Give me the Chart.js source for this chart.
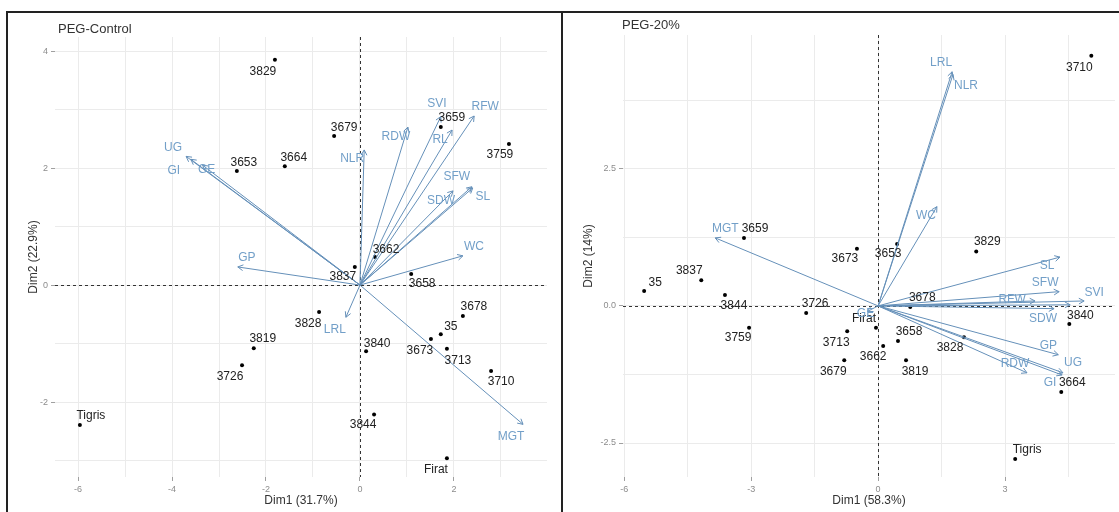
<!DOCTYPE html>
<html>
<head>
<meta charset="utf-8">
<script src="https://cdn.jsdelivr.net/npm/chart.js@4.4.1/dist/chart.umd.min.js"></script>
<style>
    body { margin: 0; background: #fff; width: 1119px; height: 512px; overflow: hidden; position: relative; }
    .frame { position: absolute; left: 6px; top: 11px; width: 1200px; height: 600px; border-left: 2px solid #222; border-top: 2px solid #222; }
    .divider { position: absolute; left: 561px; top: 11px; width: 2px; height: 600px; background: #222; }
    .panel { position: absolute; top: 14px; height: 498px; }
    #left { left: 8px; width: 552px; }
    #right { left: 563px; width: 556px; }
</style>
</head>
<body>
<div class="frame"></div>
<div class="divider"></div>
<div class="panel" id="left"><canvas id="ctrlChart"></canvas></div>
<div class="panel" id="right"><canvas id="pegChart"></canvas></div>

<script>
// ---- PEG-Control ----
const ctrlNames = ["3829", "3653", "3664", "3679", "3659", "3759", "3662", "3837", "3658", "3828", "3819",
    "3726", "Tigris", "3678", "35", "3673", "3713", "3840", "3710", "3844", "Firat"];
const ctrlX = [-1.81, -2.62, -1.60, -0.55, 1.72, 3.17, 0.32, -0.11, 1.09, -0.87, -2.26,
    -2.51, -5.96, 2.19, 1.72, 1.51, 1.85, 0.13, 2.79, 0.30, 1.85];
const ctrlY = [3.85, 1.95, 2.03, 2.55, 2.70, 2.41, 0.48, 0.31, 0.19, -0.46, -1.08,
    -1.37, -2.39, -0.53, -0.84, -0.92, -1.09, -1.13, -1.47, -2.21, -2.96];

const ctrlVars = ["UG", "GI", "GE", "GP", "NLR", "RDW", "SVI", "RL", "RFW", "SFW", "SL", "SDW", "WC", "LRL", "MGT"];
const ctrlVarX = [-3.70, -3.60, -3.35, -2.60, 0.09, 1.02, 1.72, 1.96, 2.43, 2.38, 2.40, 1.98, 2.19, -0.30, 3.47];
const ctrlVarY = [2.20, 2.15, 2.05, 0.31, 2.31, 2.70, 2.88, 2.65, 2.89, 1.68, 1.66, 1.61, 0.50, -0.55, -2.38];

const ctrlXTicks = [-6, -4, -2, 0, 2];
const ctrlYTicks = [-2, 0, 2, 4];
const ctrlXGrid = [-6, -5, -4, -3, -2, -1, 0, 1, 2, 3];
const ctrlYGrid = [-3, -2, -1, 0, 1, 2, 3, 4];

// ---- PEG-20% ----
const pegNames = ["3710", "3659", "3673", "3653", "3829", "35", "3837", "3844", "3759", "3726", "3713",
    "3679", "Firat", "3662", "3658", "3819", "3678", "3828", "3840", "3664", "Tigris"];
const pegX = [5.04, -3.17, -0.50, 0.45, 2.32, -5.53, -4.18, -3.62, -3.05, -1.70, -0.73,
    -0.80, -0.05, 0.12, 0.47, 0.66, 0.76, 2.03, 4.52, 4.33, 3.24];
const pegY = [4.56, 1.24, 1.04, 1.13, 0.99, 0.27, 0.47, 0.20, -0.40, -0.13, -0.46,
    -0.99, -0.40, -0.73, -0.64, -0.99, -0.02, -0.57, -0.33, -1.57, -2.79];

const pegVars = ["LRL", "NLR", "WC", "SL", "SFW", "SVI", "RFW", "RL", "SDW", "GP", "UG", "GI", "RDW", "MGT", "GE"];
const pegVarX = [1.75, 1.77, 1.39, 4.30, 4.28, 4.87, 3.71, 4.54, 4.16, 4.26, 4.37, 4.35, 3.52, -3.85, -0.25];
const pegVarY = [4.27, 4.22, 1.81, 0.89, 0.26, 0.09, 0.09, 0.02, -0.05, -0.89, -1.22, -1.26, -1.22, 1.24, -0.10];

const pegXTicks = [-6, -3, 0, 3];
const pegYTicks = [-2.5, 0, 2.5];
const pegXGrid = [-6, -4.5, -3, -1.5, 0, 1.5, 3, 4.5];
const pegYGrid = [-2.5, -1.25, 0, 1.25, 2.5, 3.75];

// label placement (px offset from point / arrow tip), like ggrepel did it
const ctrlNudge = {
    "3829": [-12, 12], "3653": [7, -8], "3664": [9, -9], "3679": [10, -8], "3659": [11, -9],
    "3759": [-9, 11], "3662": [11, -7], "3837": [-12, 10], "3658": [11, 10], "3828": [-11, 12],
    "3819": [9, -10], "3726": [-12, 11], "Tigris": [11, -9], "3678": [11, -9], "35": [10, -8],
    "3673": [-11, 12], "3713": [11, 12], "3840": [11, -8], "3710": [10, 11], "3844": [-11, 10],
    "Firat": [-11, 11],
    UG: [-13, -9], GI: [-17, 11], GE: [4, 5], GP: [9, -9], NLR: [-12, 9], RDW: [-12, 10],
    SVI: [-4, -13], RL: [-12, 10], RFW: [11, -9], SFW: [-15, -10], SL: [10, 9], SDW: [-12, 10],
    WC: [11, -9], LRL: [-11, 12], MGT: [-12, 12]
};
const pegNudge = {
    "3710": [-12, 12], "3659": [11, -9], "3673": [-12, 10], "3653": [-9, 10], "3829": [11, -10],
    "35": [11, -8], "3837": [-12, -9], "3844": [9, 11], "3759": [-11, 10], "3726": [9, -9],
    "3713": [-11, 12], "3679": [-11, 11], "Firat": [-12, -9], "3662": [-10, 11], "3658": [11, -9],
    "3819": [9, 11], "3678": [12, -9], "3828": [-14, 11], "3840": [11, -8], "3664": [11, -9],
    "Tigris": [12, -9],
    LRL: [-11, -9], NLR: [13, 11], WC: [-11, 9], SL: [-13, 9], SFW: [-14, -9], SVI: [10, -8],
    RFW: [-23, -1], RL: null, SDW: [-11, 10], GP: [-10, -9], UG: [10, -10], GI: [-12, 8],
    RDW: [-12, -9], MGT: [10, -9], GE: [-2, 2]
};

const FONT = '"Liberation Sans", Arial, sans-serif';
const ARROW = "#6590b9";
const VARTEXT = "#729fc8";
const GRID = "#ebebeb";

Chart.defaults.font.family = FONT;

function biplot(canvasId, o) {

    const arrowSets = o.vars.map((v, i) => ({
        label: v,
        data: [{ x: 0, y: 0 }, { x: o.vx[i], y: o.vy[i] }],
        showLine: true,
        borderColor: ARROW,
        borderWidth: 1,
        pointRadius: 0,
        order: 0
    }));

    const pointSet = {
        label: "ind",
        data: o.names.map((n, i) => ({ x: o.x[i], y: o.y[i] })),
        backgroundColor: "#000",
        borderWidth: 0,
        pointRadius: 2,
        order: 1
    };

    const fmt = v => o.decimals ? v.toFixed(o.decimals) : String(v);

    const overlay = {
        id: "overlay",
        beforeDatasetsDraw(chart) {
            const { ctx, chartArea: a, scales: { x, y } } = chart;
            const x0 = Math.round(x.getPixelForValue(0)) + 0.5;
            const y0 = Math.round(y.getPixelForValue(0)) + 0.5;
            ctx.save();
            ctx.strokeStyle = "#333";
            ctx.lineWidth = 1;
            ctx.setLineDash([3, 3]);
            ctx.beginPath();
            ctx.moveTo(a.left, y0);
            ctx.lineTo(a.right, y0);
            ctx.moveTo(x0, a.top);
            ctx.lineTo(x0, a.bottom);
            ctx.stroke();
            ctx.restore();
        },
        afterDatasetsDraw(chart) {
            const { ctx, chartArea: a, scales: { x, y } } = chart;
            const ox = x.getPixelForValue(0), oy = y.getPixelForValue(0);
            ctx.save();

            // arrow heads
            ctx.strokeStyle = ARROW;
            ctx.lineWidth = 1;
            o.vars.forEach((v, i) => {
                const tx = x.getPixelForValue(o.vx[i]);
                const ty = y.getPixelForValue(o.vy[i]);
                const ang = Math.atan2(ty - oy, tx - ox);
                ctx.beginPath();
                ctx.moveTo(tx - 6 * Math.cos(ang - 0.5), ty - 6 * Math.sin(ang - 0.5));
                ctx.lineTo(tx, ty);
                ctx.lineTo(tx - 6 * Math.cos(ang + 0.5), ty - 6 * Math.sin(ang + 0.5));
                ctx.stroke();
            });

            ctx.textAlign = "center";
            ctx.textBaseline = "middle";
            ctx.font = "12px " + FONT;

            // individuals
            ctx.fillStyle = "#222";
            o.names.forEach((n, i) => {
                const d = o.nudge[n] || [10, -9];
                ctx.fillText(n, x.getPixelForValue(o.x[i]) + d[0], y.getPixelForValue(o.y[i]) + d[1]);
            });

            // variables
            ctx.fillStyle = VARTEXT;
            o.vars.forEach((v, i) => {
                const d = o.nudge[v];
                if (!d) return;
                ctx.fillText(v, x.getPixelForValue(o.vx[i]) + d[0], y.getPixelForValue(o.vy[i]) + d[1]);
            });

            // panel title
            ctx.fillStyle = "#333";
            ctx.textAlign = "left";
            ctx.font = "13px " + FONT;
            ctx.fillText(o.title, a.left + o.titleDx, o.titleY);

            ctx.restore();
        }
    };

    return new Chart(document.getElementById(canvasId), {
        type: "scatter",
        data: { datasets: [...arrowSets, pointSet] },
        options: {
            responsive: true,
            maintainAspectRatio: false,
            animation: false,
            events: [],
            layout: { padding: { left: 14, top: o.padTop, right: o.padRight, bottom: 0 } },
            plugins: {
                legend: { display: false },
                tooltip: { enabled: false }
            },
            scales: {
                x: {
                    type: "linear",
                    min: o.xMin,
                    max: o.xMax,
                    afterBuildTicks: s => { s.ticks = o.xGrid.map(v => ({ value: v })); },
                    afterFit: s => { s.height = 35; },
                    ticks: {
                        autoSkip: false,
                        maxRotation: 0,
                        padding: 3,
                        color: "#8c8c8c",
                        font: { size: 9 },
                        callback: v => o.xTicks.includes(v) ? String(v) : ""
                    },
                    grid: {
                        color: GRID,
                        tickLength: 4,
                        tickColor: c => o.xTicks.includes(c.tick.value) ? "#a0a0a0" : "rgba(0,0,0,0)"
                    },
                    border: { display: false },
                    title: {
                        display: true,
                        text: o.xTitle,
                        color: "#333",
                        font: { size: 12 },
                        padding: { top: 4, bottom: 4 }
                    }
                },
                y: {
                    type: "linear",
                    min: o.yMin,
                    max: o.yMax,
                    afterBuildTicks: s => { s.ticks = o.yGrid.map(v => ({ value: v })); },
                    afterFit: s => { s.width = o.yWidth; },
                    ticks: {
                        autoSkip: false,
                        padding: 3,
                        color: "#8c8c8c",
                        font: { size: 9 },
                        callback: v => o.yTicks.includes(v) ? fmt(v) : ""
                    },
                    grid: {
                        color: GRID,
                        tickLength: 4,
                        tickColor: c => o.yTicks.includes(c.tick.value) ? "#a0a0a0" : "rgba(0,0,0,0)"
                    },
                    border: { display: false },
                    title: {
                        display: true,
                        text: o.yTitle,
                        color: "#333",
                        font: { size: 12 },
                        padding: { top: 4, bottom: 4 }
                    }
                }
            }
        },
        plugins: [overlay]
    });
}

biplot("ctrlChart", {
    title: "PEG-Control", titleDx: 3, titleY: 15,
    names: ctrlNames, x: ctrlX, y: ctrlY,
    vars: ctrlVars, vx: ctrlVarX, vy: ctrlVarY,
    nudge: ctrlNudge,
    xMin: -6.49, xMax: 3.98, yMin: -3.28, yMax: 4.24,
    xTicks: ctrlXTicks, yTicks: ctrlYTicks, xGrid: ctrlXGrid, yGrid: ctrlYGrid,
    xTitle: "Dim1 (31.7%)", yTitle: "Dim2 (22.9%)",
    decimals: 0, yWidth: 33, padTop: 23, padRight: 13
});

biplot("pegChart", {
    title: "PEG-20%", titleDx: -1, titleY: 11,
    names: pegNames, x: pegX, y: pegY,
    vars: pegVars, vx: pegVarX, vy: pegVarY,
    nudge: pegNudge,
    xMin: -6.03, xMax: 5.6, yMin: -3.12, yMax: 4.94,
    xTicks: pegXTicks, yTicks: pegYTicks, xGrid: pegXGrid, yGrid: pegYGrid,
    xTitle: "Dim1 (58.3%)", yTitle: "Dim2 (14%)",
    decimals: 1, yWidth: 46, padTop: 21, padRight: 4
});
</script>
</body>
</html>
